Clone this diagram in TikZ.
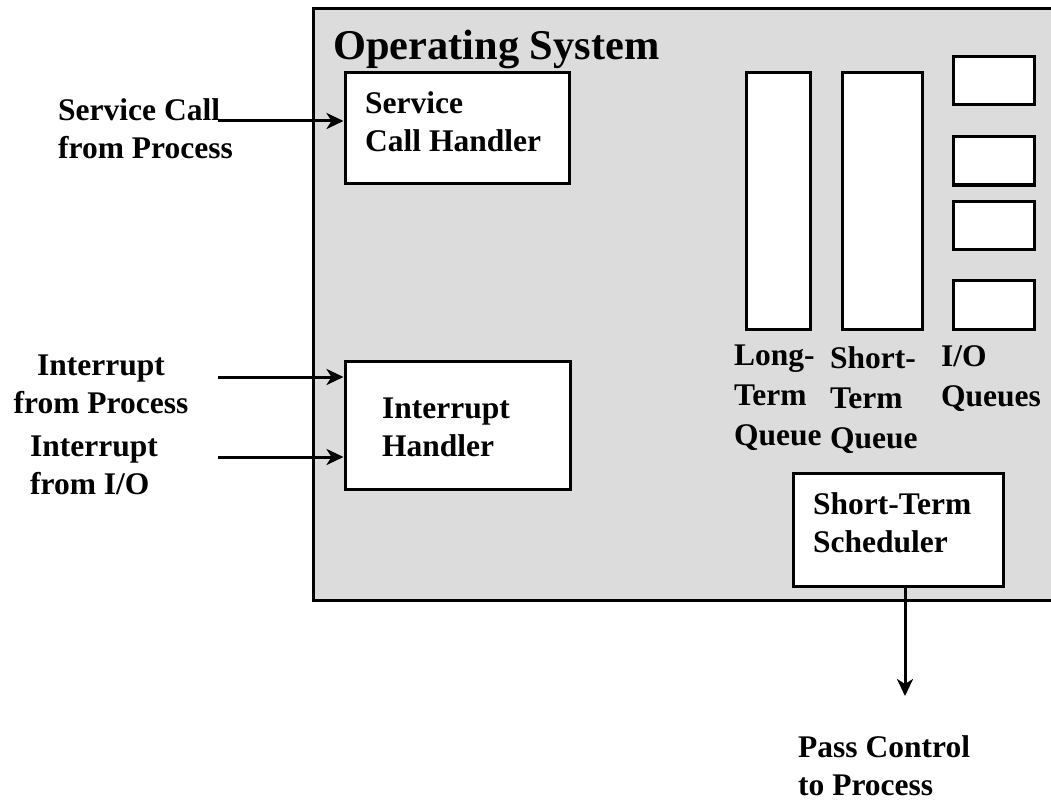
\documentclass[tikz,border=0pt]{standalone}
\usepackage{fontspec}
\setmainfont{Liberation Serif}
\usetikzlibrary{arrows.meta}
\definecolor{osgray}{HTML}{DCDCDC}
\tikzset{
  box/.style={draw=black, line width=3pt, fill=white, inner sep=0pt},
  qlabel/.style={anchor=base west, inner sep=0pt, align=left,
    font=\fontsize{31.5}{40}\selectfont\bfseries},
  label/.style={anchor=base west, inner sep=0pt, align=left,
    font=\fontsize{31.5}{38}\selectfont\bfseries},
  flow/.style={line width=3pt, -{Stealth[length=17pt,width=16pt,inset=5pt]}}
}
\begin{document}
\begin{tikzpicture}[x=1pt,y=-1pt]
\path[use as bounding box, clip] (0,0) rectangle (1051,805);

% operating system area (runs past the right edge)
\draw[line width=3pt, fill=osgray] (313,9) rectangle (1090,600);
\node[anchor=base west, inner sep=0pt, font=\fontsize{42.4}{50}\selectfont\bfseries]
  (title) at (333,60) {Operating System};

% handlers (multi-line labels are placed by the baseline of their last line)
\node[box, minimum width=224pt, minimum height=111pt] (sch) at (457,128.5) {};
\node[label] (schtext) at (365,152) {Service\\Call Handler};
\node[box, minimum width=225pt, minimum height=128pt] (ih) at (457.5,425) {};
\node[label] (ihtext) at (382,456) {Interrupt\\Handler};

% queues
\node[box, minimum width=64pt, minimum height=256pt] (ltq) at (778,201) {};
\node[box, minimum width=80pt, minimum height=256pt] (stq) at (882,201) {};
\node[box, minimum width=81pt, minimum height=48pt] (io1) at (993.5,81) {};
\node[box, minimum width=81pt, minimum height=48pt] (io2) at (993.5,161) {};
\node[box, minimum width=81pt, minimum height=48pt] (io3) at (993.5,225) {};
\node[box, minimum width=81pt, minimum height=49pt] (io4) at (993.5,304.5) {};
\node[qlabel] (ltqtext) at (734,445) {Long-\\Term\\Queue};
\node[qlabel] (stqtext) at (830,448) {Short-\\Term\\Queue};
\node[qlabel] (iotext) at (941,406) {I/O\\Queues};

% scheduler
\node[box, minimum width=210pt, minimum height=113pt] (sts) at (898,529.5) {};
\node[label] (ststext) at (813,552) {Short-Term\\Scheduler};

% inputs
\node[label] (svcin) at (58,159) {Service Call\\from Process};
\node[label, anchor=base, align=center] (intproc) at (101,413) {Interrupt\\from Process};
\node[label] (intio) at (30,494) {Interrupt\\from I/O};
\coordinate (svcstart) at (218,121);
\coordinate (procstart) at (218,377);
\coordinate (iostart) at (218,457);
\draw[flow] (svcstart) -- (sch.west |- svcstart);
\draw[flow] (procstart) -- (ih.west |- procstart);
\draw[flow] (iostart) -- (ih.west |- iostart);

% output
\coordinate (passend) at (905,696);
\draw[flow] (sts.south -| passend) -- (passend);
\node[label] (passtext) at (798,795) {Pass Control\\to Process};
\end{tikzpicture}
\end{document}
